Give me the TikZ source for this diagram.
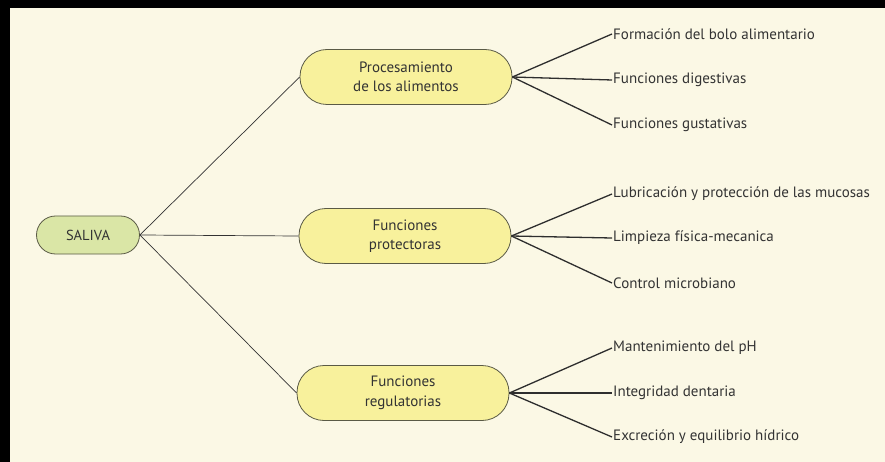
\documentclass[tikz,border=0pt]{standalone}
\usepackage{fontspec}
\setmainfont{PT Sans}
\definecolor{bg}{HTML}{FBF8E5}
\definecolor{pill}{HTML}{F8F19C}
\definecolor{green}{HTML}{DAE6A6}
\definecolor{edge}{HTML}{5A5A45}
\definecolor{ink}{HTML}{333333}
\begin{document}
\begin{tikzpicture}[x=1pt,y=-1pt,
  pillbox/.style={draw=edge, line width=0.8pt, fill=pill, rounded corners=27pt,
    minimum width=212pt, minimum height=55pt, inner sep=0pt, align=center,
    font=\fontsize{15}{19.5}\selectfont, text=ink},
  rootbox/.style={pillbox, fill=green, rounded corners=19pt, minimum width=103pt, minimum height=38pt,
    font=\fontsize{14.5}{18}\selectfont},
  leaf/.style={anchor=west, inner sep=1pt, font=\fontsize{15}{18}\selectfont, text=ink},
  thin/.style={draw=ink, line width=0.7pt},
  thick/.style={draw=ink!90!black, line width=1.3pt}]
\useasboundingbox (0,0) rectangle (885,462);
\fill[bg] (0,0) rectangle (885,462);
\fill[black] (0,0) rectangle (885,8);
\fill[black] (0,0) rectangle (10,462);

\node[rootbox] (sal) at (88,235) {SALIVA};
\node[pillbox] (p1) at (406,77) {Procesamiento\\de los alimentos};
\node[pillbox] (p2) at (405,236) {Funciones\\protectoras};
\node[pillbox] (p3) at (403,393) {Funciones\\regulatorias};

\node[leaf] (a1) at (612,34) {Formación del bolo alimentario};
\node[leaf] (a2) at (612,80) {Funciones digestivas};
\node[leaf] (a3) at (612,125) {Funciones gustativas};
\node[leaf] (b1) at (612,194) {Lubricación y protección de las mucosas};
\node[leaf] (b2) at (612,238) {Limpieza física-mecanica};
\node[leaf] (b3) at (612,283) {Control microbiano};
\node[leaf] (c1) at (612,348) {Mantenimiento del pH};
\node[leaf] (c2) at (612,393) {Integridad dentaria};
\node[leaf] (c3) at (612,437) {Excreción y equilibrio hídrico};

\draw[thin] (sal.east) -- (p1.west);
\draw[thin] (sal.east) -- (p2.west);
\draw[thin] (sal.east) -- (p3.west);
\foreach \p/\l in {p1/a1,p1/a2,p1/a3,p2/b1,p2/b2,p2/b3,p3/c1,p3/c2,p3/c3}
  \draw[thick] (\p.east) -- (\l.west);
\end{tikzpicture}
\end{document}
